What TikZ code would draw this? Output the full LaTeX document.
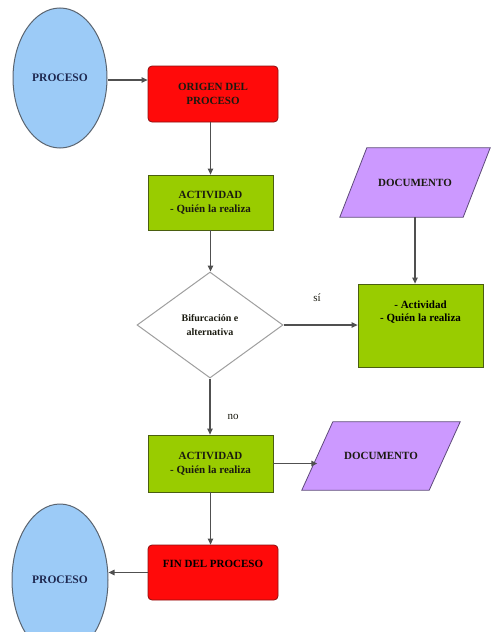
\documentclass[tikz,border=0pt]{standalone}
\usepackage{fontspec}
\setmainfont{Liberation Serif}
\usetikzlibrary{shapes.geometric,arrows.meta,backgrounds}

\definecolor{procblue}{HTML}{9CCBF7}
\definecolor{procedge}{HTML}{5A6470}
\definecolor{procred}{HTML}{FF0A0A}
\definecolor{rededge}{HTML}{8A1010}
\definecolor{actgreen}{HTML}{99CC00}
\definecolor{greenedge}{HTML}{4A5E10}
\definecolor{docpurple}{HTML}{CC99FF}
\definecolor{docedge}{HTML}{5E4A7A}
\definecolor{txtnavy}{HTML}{1E2850}
\definecolor{txtdark}{HTML}{1A1A10}
\definecolor{lineg}{HTML}{505050}

\tikzset{
  x=1pt, y=-1pt,
  every node/.style={font=\fontsize{11}{13.5}\selectfont\bfseries, align=center, inner sep=0pt},
  procnode/.style={ellipse, fill=procblue, draw=procedge, line width=1pt, text=txtnavy,
    font=\fontsize{11.5}{13.5}\selectfont\bfseries},
  redbox/.style={rectangle, rounded corners=4pt, fill=procred, draw=rededge, line width=0.8pt, text=txtdark},
  greenbox/.style={rectangle, fill=actgreen, draw=greenedge, line width=0.8pt, text=txtdark},
  docbox/.style={rectangle, text=txtdark},
  docshape/.style={fill=docpurple, draw=docedge, line width=0.8pt},
  decision/.style={diamond, fill=white, draw=gray!75, line width=1pt,
    font=\fontsize{10}{14}\selectfont\bfseries, text=txtdark},
  flow/.style={draw=lineg, line width=1.2pt, -{Triangle[length=6pt,width=5.5pt]}},
  branch/.style={font=\fontsize{11}{13}\selectfont, text=txtdark},
}

\begin{document}
\begin{tikzpicture}
\useasboundingbox (0,0) rectangle (492,632);

% start and end of the process
\node[procnode, minimum width=94pt, minimum height=140pt] (p1) at (60,78) {PROCESO};
\node[procnode, minimum width=96pt, minimum height=152pt] (p2) at (60,580) {PROCESO};

% red terminal boxes
\node[redbox, minimum width=130pt, minimum height=56pt] (origen) at (213,94) {ORIGEN DEL\\PROCESO};
\node[redbox, minimum width=130pt, minimum height=55pt] (fin) at (213,572.5) {};
\node (fintxt) at (213,564) {FIN DEL PROCESO};

% activity boxes
\node[greenbox, minimum width=125pt, minimum height=55pt] (act1) at (210.5,202.5) {ACTIVIDAD\\- Quién la realiza};
\node[greenbox, minimum width=125pt, minimum height=57pt] (act2) at (210.5,463.5) {ACTIVIDAD\\- Quién la realiza};
\node[greenbox, minimum width=125pt, minimum height=83pt] (act3) at (420.5,325.5) {};
\node (act3txt) at (420.5,312) {- Actividad\\- Quién la realiza};

% decision
\node[decision, minimum width=146pt, minimum height=106pt] (dec) at (210,325) {Bifurcación e\\alternativa};

% documents (parallelograms drawn behind their labels)
\node[docbox, minimum width=123pt, minimum height=69pt] (doc1) at (415,182.5) {DOCUMENTO};
\node[docbox, minimum width=127pt, minimum height=68pt] (doc2) at (381,456) {DOCUMENTO};
\begin{scope}[on background layer]
  \path[docshape] ([xshift=13.5pt]doc1.north west) -- ([xshift=13.5pt]doc1.north east)
    -- ([xshift=-13.5pt]doc1.south east) -- ([xshift=-13.5pt]doc1.south west) -- cycle;
  \path[docshape] ([xshift=15.5pt]doc2.north west) -- ([xshift=15.5pt]doc2.north east)
    -- ([xshift=-15.5pt]doc2.south east) -- ([xshift=-15.5pt]doc2.south west) -- cycle;
\end{scope}

% connectors
\draw[flow] (p1.east |- 0,80) -- (origen.west |- 0,80);
\draw[flow] (origen.south -| act1.north) -- (act1.north);
\draw[flow] (act1.south) -- (act1.south |- dec.north);
\draw[flow] (dec.east) -- (dec.east -| act3.west);
\draw[flow] (doc1.south) -- (act3.north -| doc1.south);
\draw[flow] (dec.south) -- (act2.north -| dec.south);
\draw[flow] (act2.east) -- (act2.east -| doc2.west);
\draw[flow] (act2.south) -- (fin.north -| act2.south);
\draw[flow] (fin.west) -- (p2.east |- fin.west);

% branch labels
\node[branch] (si) at (317,298) {sí};
\node[branch] (no) at (233,417) {no};
\end{tikzpicture}
\end{document}
